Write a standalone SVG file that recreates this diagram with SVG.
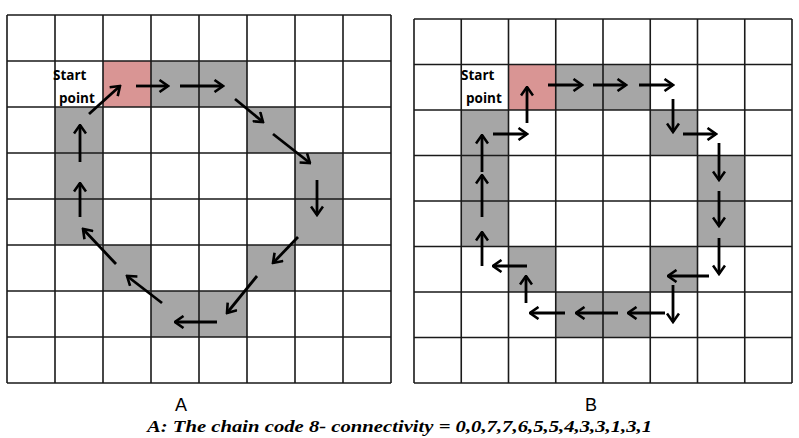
<svg xmlns="http://www.w3.org/2000/svg" width="799" height="438" viewBox="0 0 799 438">
<style>
.pink{fill:#d99594}
.gray{fill:#a6a6a6}
.grid{fill:none;stroke:#1a1a1a;stroke-width:1.6}
.arr{stroke:#000;stroke-width:2.8;fill:none;marker-end:url(#ah)}
.sp{font-family:"Open Sans","Liberation Sans",sans-serif;font-weight:bold;font-size:13.5px;fill:#000}
.lbl{font-family:"Liberation Sans",Arial,sans-serif;font-size:18px;fill:#000}
.cap{font-family:"Liberation Serif","Times New Roman",serif;font-weight:bold;font-style:italic;font-size:17px;fill:#000}
</style>
<defs>
<marker id="ah" viewBox="0 0 12 14" refX="10.5" refY="7" markerWidth="12" markerHeight="14" orient="auto" markerUnits="userSpaceOnUse">
<path d="M2,1 L10.5,7 L2,13" fill="none" stroke="#000" stroke-width="2.6"/>
</marker>
</defs>
<rect width="799" height="438" fill="#fff"/>
<g id="grid-a">
<rect class="pink" x="103" y="61" width="48" height="46"/>
<rect class="gray" x="151" y="61" width="96" height="46"/>
<rect class="gray" x="55" y="107" width="48" height="138"/>
<rect class="gray" x="247" y="107" width="48" height="46"/>
<rect class="gray" x="295" y="153" width="48" height="92"/>
<rect class="gray" x="103" y="245" width="48" height="46"/>
<rect class="gray" x="247" y="245" width="48" height="46"/>
<rect class="gray" x="151" y="291" width="96" height="46"/>
<path class="grid" d="M7,15V383M55,15V383M103,15V383M151,15V383M199,15V383M247,15V383M295,15V383M343,15V383M391,15V383M7,15H391M7,61H391M7,107H391M7,153H391M7,199H391M7,245H391M7,291H391M7,337H391M7,383H391"/>
<text class="sp" x="53" y="80">Start</text>
<text class="sp" x="59" y="103">point</text>
</g>
<g id="grid-b">
<rect class="pink" x="508.5" y="64.5" width="47.25" height="45.5"/>
<rect class="gray" x="555.75" y="64.5" width="94.5" height="45.5"/>
<rect class="gray" x="461.25" y="110" width="47.25" height="136.5"/>
<rect class="gray" x="650.25" y="110" width="47.25" height="45.5"/>
<rect class="gray" x="697.5" y="155.5" width="47.25" height="91"/>
<rect class="gray" x="508.5" y="246.5" width="47.25" height="45.5"/>
<rect class="gray" x="650.25" y="246.5" width="47.25" height="45.5"/>
<rect class="gray" x="555.75" y="292" width="94.5" height="45.5"/>
<path class="grid" d="M414,19V383M461.25,19V383M508.5,19V383M555.75,19V383M603,19V383M650.25,19V383M697.5,19V383M744.75,19V383M792,19V383M414,19H792M414,64.5H792M414,110H792M414,155.5H792M414,201H792M414,246.5H792M414,292H792M414,337.5H792M414,383H792"/>
<text class="sp" x="461" y="80">Start</text>
<text class="sp" x="466" y="103">point</text>
</g>
<g id="connectors">
<line class="arr" x1="89" y1="114" x2="120" y2="86"/>
<line class="arr" x1="136" y1="86" x2="168" y2="86"/>
<line class="arr" x1="180" y1="86" x2="223" y2="86"/>
<line class="arr" x1="235" y1="99" x2="263" y2="122"/>
<line class="arr" x1="273" y1="134" x2="310" y2="163"/>
<line class="arr" x1="317" y1="180" x2="317" y2="215"/>
<line class="arr" x1="298" y1="237" x2="273" y2="263"/>
<line class="arr" x1="257" y1="276" x2="227" y2="313"/>
<line class="arr" x1="217" y1="322" x2="175" y2="322"/>
<line class="arr" x1="162" y1="303" x2="127" y2="276"/>
<line class="arr" x1="116" y1="264" x2="83" y2="229"/>
<line class="arr" x1="80" y1="217" x2="80" y2="183"/>
<line class="arr" x1="80" y1="162" x2="80" y2="125"/>
<line class="arr" x1="527" y1="123" x2="527" y2="87"/>
<line class="arr" x1="548" y1="85" x2="582" y2="85"/>
<line class="arr" x1="593" y1="85" x2="626" y2="85"/>
<line class="arr" x1="639" y1="85" x2="673" y2="85"/>
<line class="arr" x1="673" y1="99" x2="673" y2="132"/>
<line class="arr" x1="683" y1="134" x2="716" y2="134"/>
<line class="arr" x1="719" y1="143" x2="719" y2="180"/>
<line class="arr" x1="719" y1="191" x2="719" y2="226"/>
<line class="arr" x1="719" y1="238" x2="719" y2="274"/>
<line class="arr" x1="709" y1="276" x2="668" y2="276"/>
<line class="arr" x1="673" y1="285" x2="673" y2="322"/>
<line class="arr" x1="665" y1="313" x2="628" y2="313"/>
<line class="arr" x1="618" y1="313" x2="576" y2="313"/>
<line class="arr" x1="565" y1="313" x2="530" y2="313"/>
<line class="arr" x1="526" y1="303" x2="526" y2="276"/>
<line class="arr" x1="527" y1="266" x2="493" y2="266"/>
<line class="arr" x1="482" y1="266" x2="482" y2="232"/>
<line class="arr" x1="482" y1="217" x2="482" y2="175"/>
<line class="arr" x1="482" y1="172" x2="482" y2="135"/>
<line class="arr" x1="493" y1="134" x2="527" y2="134"/>
</g>
<g id="labels">
<text class="lbl" x="181" y="411" text-anchor="middle">A</text>
<text class="lbl" x="591" y="411" text-anchor="middle">B</text>
<text class="cap" x="147" y="432" textLength="505" lengthAdjust="spacingAndGlyphs">A: The chain code 8- connectivity = 0,0,7,7,6,5,5,4,3,3,1,3,1</text>
</g>
</svg>
